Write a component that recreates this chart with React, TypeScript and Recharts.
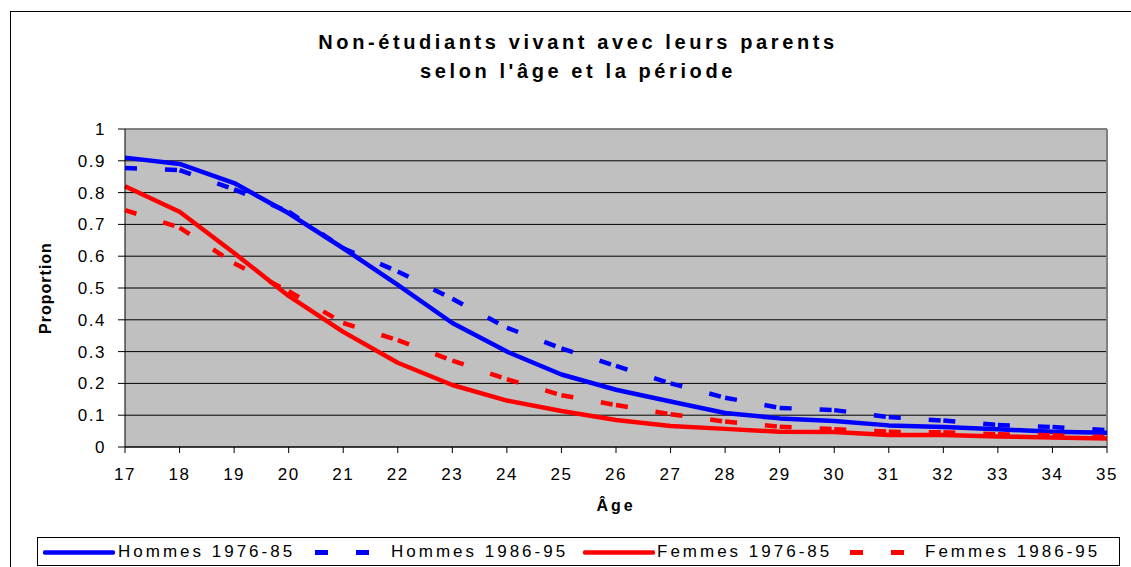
import { CartesianGrid, Legend, Line, LineChart, ReferenceLine, XAxis, YAxis } from "recharts";

const ages = [17, 18, 19, 20, 21, 22, 23, 24, 25, 26, 27, 28, 29, 30, 31, 32, 33, 34, 35];
const hommes7685 = [0.91, 0.89, 0.83, 0.735, 0.625, 0.51, 0.39, 0.3, 0.228, 0.18, 0.143, 0.107, 0.09, 0.082, 0.068, 0.063, 0.056, 0.048, 0.045];
const hommes8695 = [0.877, 0.871, 0.81, 0.74, 0.625, 0.552, 0.466, 0.375, 0.31, 0.255, 0.2, 0.155, 0.123, 0.116, 0.094, 0.083, 0.069, 0.063, 0.053];
const femmes7685 = [0.82, 0.74, 0.61, 0.475, 0.362, 0.265, 0.195, 0.146, 0.113, 0.085, 0.066, 0.057, 0.048, 0.047, 0.038, 0.038, 0.033, 0.03, 0.027];
const femmes8695 = [0.745, 0.69, 0.578, 0.49, 0.39, 0.336, 0.272, 0.213, 0.163, 0.132, 0.103, 0.08, 0.064, 0.056, 0.048, 0.046, 0.04, 0.037, 0.031];
const yTicks = [0, 0.1, 0.2, 0.3, 0.4, 0.5, 0.6, 0.7, 0.8, 0.9, 1];
const seriesNames = ["Hommes 1976-85", "Hommes 1986-95", "Femmes 1976-85", "Femmes 1986-95"];

const data = ages.map((age, i) => ({
  age,
  h76: hommes7685[i],
  h86: hommes8695[i],
  f76: femmes7685[i],
  f86: femmes8695[i],
}));

const FONT = "'Liberation Sans', Arial, sans-serif";
const BLUE = "#0000FF";
const RED = "#FF0000";
const LW = 4.5;

// excel restarts the dash pattern on every segment, so draw each one separately
function dashedSegments(color: string) {
  return (props: any) => {
    const { index, points } = props;
    if (!points || index >= points.length - 1) return <g key={`d-${index}`} />;
    const p = points[index];
    const q = points[index + 1];
    return (
      <line
        key={`d-${index}`}
        x1={p.x}
        y1={p.y}
        x2={q.x}
        y2={q.y}
        stroke={color}
        strokeWidth={LW}
        strokeDasharray="12 28"
      />
    );
  };
}

// legend item slots, relative to the legend box
const legendSlots = [
  { sample: 5, text: 80, dashed: false },
  { sample: 277, text: 353, dashed: true },
  { sample: 545, text: 619, dashed: false },
  { sample: 812, text: 887, dashed: true },
];

function ExcelLegend({ payload }: any) {
  // keep series order (recharts sorts by name otherwise)
  const items = [...(payload || [])].sort(
    (a: any, b: any) => seriesNames.indexOf(a.value) - seriesNames.indexOf(b.value)
  );
  return (
    <div
      style={{
        position: "relative",
        width: 1083,
        height: 29,
        boxSizing: "border-box",
        border: "1px solid #000",
        background: "#fff",
        fontFamily: FONT,
        fontSize: 17,
        letterSpacing: 3,
        color: "#000",
      }}
    >
      {items.map((it: any, i: number) => {
        const slot = legendSlots[i];
        if (!slot) return null;
        return (
          <div key={it.value}>
            <svg style={{ position: "absolute", left: slot.sample, top: 0 }} width={72} height={28}>
              {slot.dashed ? (
                <g fill={it.color}>
                  <rect x={0} y={12} width={13} height={5} />
                  <rect x={41} y={12} width={13} height={5} />
                </g>
              ) : (
                <line x1={2} y1={14.5} x2={70} y2={14.5} stroke={it.color} strokeWidth={LW} strokeLinecap="round" />
              )}
            </svg>
            <span style={{ position: "absolute", left: slot.text, top: 0, lineHeight: "28px", whiteSpace: "nowrap" }}>
              {it.value}
            </span>
          </div>
        );
      })}
    </div>
  );
}

function YTitle({ viewBox }: any) {
  const x = viewBox.x + 45;
  const y = viewBox.y + viewBox.height / 2;
  return (
    <text
      x={x}
      y={y}
      transform={`rotate(-90, ${x}, ${y})`}
      textAnchor="middle"
      dominantBaseline="central"
      fontFamily={FONT}
      fontSize={16}
      fontWeight="bold"
      letterSpacing={1}
      fill="#000"
    >
      Proportion
    </text>
  );
}

function XTitle({ viewBox }: any) {
  return (
    <text
      x={viewBox.x + viewBox.width / 2}
      y={viewBox.y + 64}
      textAnchor="middle"
      fontFamily={FONT}
      fontSize={16}
      fontWeight="bold"
      letterSpacing={3}
      fill="#000"
    >
      Âge
    </text>
  );
}

const tickStyle = { fontFamily: FONT, fontSize: 17, fill: "#000", letterSpacing: 1.5 };

export default function App() {
  return (
    <div style={{ position: "absolute", left: 0, top: 0, width: 1131, height: 567, background: "#fff", overflow: "hidden" }}>
      <LineChart width={1131} height={567} data={data} margin={{ top: 129, right: 24, bottom: 1, left: 0 }}>
        <CartesianGrid vertical={false} stroke="#000" fill="#C0C0C0" fillOpacity={1} />
        <XAxis
          dataKey="age"
          type="number"
          domain={[17, 35]}
          ticks={ages}
          interval={0}
          height={90}
          tickSize={6}
          tickMargin={15}
          stroke="#000"
          tick={tickStyle}
          label={<XTitle />}
        />
        <YAxis
          type="number"
          domain={[0, 1]}
          ticks={yTicks}
          interval={0}
          width={125}
          tickSize={7}
          tickMargin={12}
          stroke="#000"
          tick={tickStyle}
          tickFormatter={(v: number) => String(v)}
          label={<YTitle />}
        />
        <ReferenceLine y={1} stroke="#808080" strokeWidth={2} />
        <ReferenceLine x={35} stroke="#808080" strokeWidth={2} />
        <Legend
          verticalAlign="bottom"
          content={<ExcelLegend />}
          wrapperStyle={{ left: 37, top: 537, width: 1083, height: 29 }}
        />
        <Line name={seriesNames[0]} type="linear" dataKey="h76" stroke={BLUE} strokeWidth={LW} dot={false} activeDot={false} strokeLinejoin="round" isAnimationActive={false} />
        <Line name={seriesNames[1]} type="linear" dataKey="h86" stroke={BLUE} strokeOpacity={0} strokeWidth={LW} dot={dashedSegments(BLUE)} activeDot={false} isAnimationActive={false} />
        <Line name={seriesNames[2]} type="linear" dataKey="f76" stroke={RED} strokeWidth={LW} dot={false} activeDot={false} strokeLinejoin="round" isAnimationActive={false} />
        <Line name={seriesNames[3]} type="linear" dataKey="f86" stroke={RED} strokeOpacity={0} strokeWidth={LW} dot={dashedSegments(RED)} activeDot={false} isAnimationActive={false} />
      </LineChart>
      <svg width={1131} height={567} style={{ position: "absolute", left: 0, top: 0, pointerEvents: "none" }}>
        <line x1={10.5} y1={11} x2={10.5} y2={567} stroke="#000" />
        <line x1={10} y1={11.5} x2={1131} y2={11.5} stroke="#000" />
        <g fontFamily={FONT} fontSize={20} fontWeight="bold" letterSpacing={3.6} fill="#000" textAnchor="middle">
          <text x={578} y={49}>Non-étudiants vivant avec leurs parents</text>
          <text x={578} y={78}>selon l'âge et la période</text>
        </g>
      </svg>
    </div>
  );
}
